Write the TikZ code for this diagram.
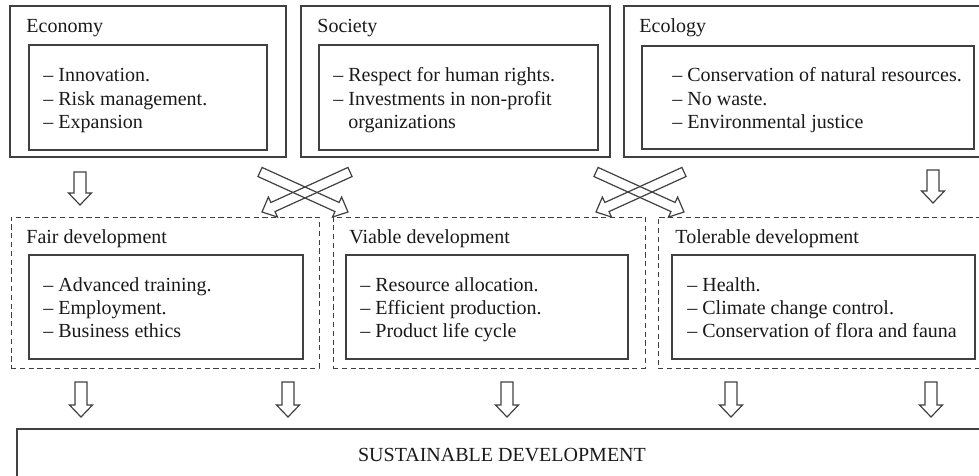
\documentclass[tikz,border=0pt]{standalone}
\usepackage{fontspec}
\setmainfont{Liberation Serif}
\usetikzlibrary{fit,calc}
\definecolor{ln}{gray}{0.25}
\definecolor{tx}{gray}{0.1}
\newcommand{\blockarr}[5]{%
  \path let \p1=(#1), \p2=(#2) in \pgfextra{%
    \pgfmathsetmacro\bang{atan2(\y2-\y1,\x2-\x1)}%
    \pgfmathsetmacro\blen{veclen(\x2-\x1,\y2-\y1)}%
    \global\let\bAng\bang \global\let\bLen\blen};
  \begin{scope}[shift={(#1)}, rotate=\bAng]
    \draw[blk] (0pt,-#3pt) -- ({\bLen pt-#5pt},-#3pt) -- ({\bLen pt-#5pt},-#4pt)
      -- ({\bLen pt},0pt) -- ({\bLen pt-#5pt},#4pt) -- ({\bLen pt-#5pt},#3pt) -- (0pt,#3pt) -- cycle;
  \end{scope}}
\begin{document}
\begin{tikzpicture}[x=0.5pt, y=-0.5pt,
  outerbox/.style={draw=ln, line width=0.65pt, inner sep=0pt},
  dashbox/.style={draw=ln, line width=0.5pt, dash pattern=on 2.6pt off 1.8pt, inner sep=0pt},
  innerbox/.style={draw=ln, line width=0.65pt, inner sep=0pt},
  title/.style={anchor=base west, inner sep=0pt, font=\fontsize{10}{12}\selectfont, text=tx},
  item/.style={anchor=base west, inner sep=0pt, font=\fontsize{10}{12}\selectfont, text=tx},
  blk/.style={draw=ln, line width=0.6pt, line join=miter}]
\useasboundingbox (0,0) rectangle (979,476);
\clip (0,0) rectangle (979,476);

% top row
\node[outerbox, fit={(10,6) (286,157)}] (eco) {};
\node[innerbox, fit={(29,45) (267,150)}] (ecoin) {};
\node[title] (ecot) at (26,33) {Economy};
\node[item] (eco1) at (43,82) {-- Innovation.};
\node[item] (eco2) at (43,105) {-- Risk management.};
\node[item] (eco3) at (43,128) {-- Expansion};

\node[outerbox, fit={(301,6) (610,157)}] (soc) {};
\node[innerbox, fit={(319,45) (598,150)}] (socin) {};
\node[title] (soct) at (317,33) {Society};
\node[item] (soc1) at (333,82) {-- Respect for human rights.};
\node[item] (soc2) at (333,105) {-- Investments in non-profit};
\node[item] (soc3) at (348,128) {organizations};

\node[outerbox, fit={(624,6) (995,157)}] (ecl) {};
\node[innerbox, fit={(642,46) (974,149)}] (eclin) {};
\node[title] (eclt) at (639,33) {Ecology};
\node[item] (ecl1) at (672,82) {-- Conservation of natural resources.};
\node[item] (ecl2) at (672,105) {-- No waste.};
\node[item] (ecl3) at (672,128) {-- Environmental justice};

% middle row
\node[dashbox, fit={(11,217) (319,368)}] (fair) {};
\node[innerbox, fit={(29,255) (303,359)}] (fairin) {};
\node[title] (fairt) at (26,243) {Fair development};
\node[item] (fair1) at (43,291) {-- Advanced training.};
\node[item] (fair2) at (43,314) {-- Employment.};
\node[item] (fair3) at (43,337) {-- Business ethics};

\node[dashbox, fit={(333,217) (645,368)}] (via) {};
\node[innerbox, fit={(346,255) (628,359)}] (viain) {};
\node[title] (viat) at (349,243) {Viable development};
\node[item] (via1) at (360,291) {-- Resource allocation.};
\node[item] (via2) at (360,314) {-- Efficient production.};
\node[item] (via3) at (360,337) {-- Product life cycle};

\node[dashbox, fit={(658,217) (995,368)}] (tol) {};
\node[innerbox, fit={(672,255) (975,359)}] (tolin) {};
\node[title] (tolt) at (675,243) {Tolerable development};
\node[item] (tol1) at (687,291) {-- Health.};
\node[item] (tol2) at (687,314) {-- Climate change control.};
\node[item] (tol3) at (687,337) {-- Conservation of flora and fauna};

% bottom
\node[outerbox, fit={(17,429) (995,495)}] (sd) {};
\node[anchor=base, inner sep=0pt, font=\fontsize{10}{12}\selectfont, text=tx] (sdt) at (502,461) {SUSTAINABLE DEVELOPMENT};

% arrow coordinates
\coordinate (a1s) at (80,172);  \coordinate (a1e) at (80,205);
\coordinate (a2s) at (933,170); \coordinate (a2e) at (933,203);
\coordinate (c1as) at (260,172); \coordinate (c1ae) at (348,212);
\coordinate (c1bs) at (350,172); \coordinate (c1be) at (262,212);
\coordinate (c2as) at (596,172); \coordinate (c2ae) at (684,212);
\coordinate (c2bs) at (684,172); \coordinate (c2be) at (596,212);
\foreach \i/\xx in {1/81,2/288,3/507,4/731,5/931}{
  \coordinate (b\i s) at (\xx,382); \coordinate (b\i e) at (\xx,417);
}

\blockarr{a1s}{a1e}{3}{5.75}{6}
\blockarr{a2s}{a2e}{3}{5.75}{6}
\blockarr{c1as}{c1ae}{2.5}{5.5}{6}
\blockarr{c1bs}{c1be}{2.5}{5.5}{6}
\blockarr{c2as}{c2ae}{2.5}{5.5}{6}
\blockarr{c2bs}{c2be}{2.5}{5.5}{6}
\blockarr{b1s}{b1e}{3}{5.75}{6}
\blockarr{b2s}{b2e}{3}{5.75}{6}
\blockarr{b3s}{b3e}{3}{5.75}{6}
\blockarr{b4s}{b4e}{3}{5.75}{6}
\blockarr{b5s}{b5e}{3}{5.75}{6}
\end{tikzpicture}
\end{document}
